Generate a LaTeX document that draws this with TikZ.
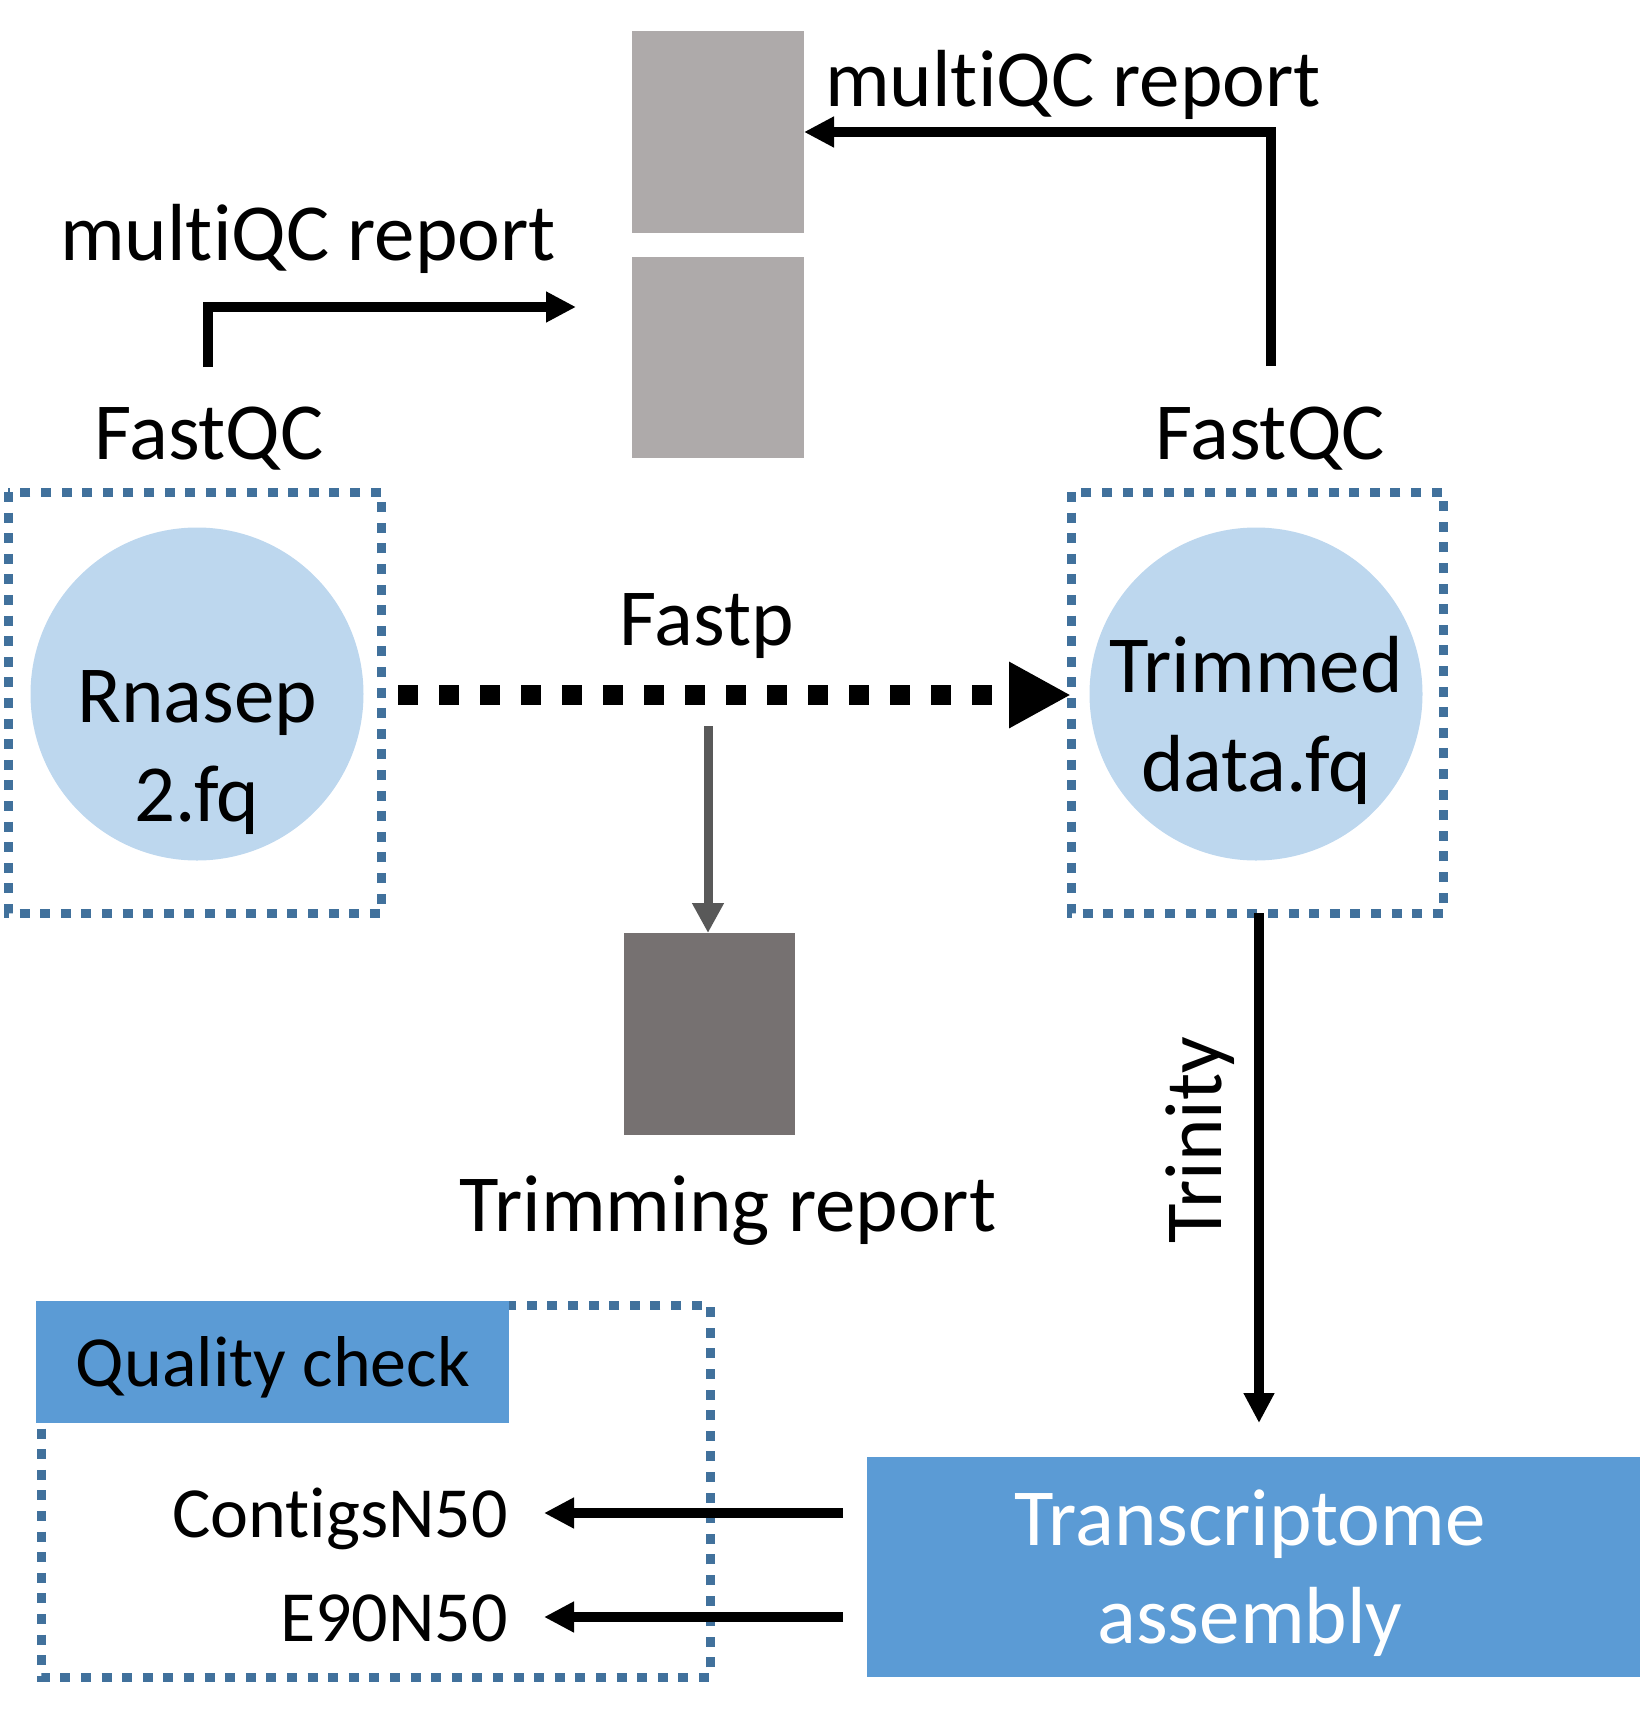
\documentclass[tikz,border=0pt]{standalone}
\usepackage{fontspec}
\setmainfont{Carlito}[RawFeature={-liga;-clig;-dlig;-calt}]
\usetikzlibrary{arrows.meta}
\definecolor{lblue}{HTML}{BDD7EE}
\definecolor{dblue}{HTML}{41719C}
\definecolor{mblue}{HTML}{5B9BD5}
\definecolor{gboxa}{HTML}{AEAAAA}
\definecolor{gboxb}{HTML}{767171}
\definecolor{garrow}{HTML}{595959}
\newcommand{\ti}{t\kern0pt i}
\tikzset{
  big/.style={font=\fontsize{81}{98}\selectfont, inner sep=0pt},
  small/.style={font=\fontsize{72}{86}\selectfont, inner sep=0pt},
  dotbox/.style={draw=dblue, line width=9pt, dash pattern=on 10pt off 10.6pt},
  circ/.style={circle, fill=lblue, minimum size=333pt, inner sep=0pt},
  rectbox/.style={rectangle, inner sep=0pt, outer sep=0pt},
  blk/.style={line width=10pt, -{Triangle[length=30pt,width=29pt]}},
}
\begin{document}
\begin{tikzpicture}[x=1pt,y=-1pt]
\useasboundingbox (0,0) rectangle (1640,1718);
% gray report boxes
\node[rectbox, fill=gboxa, minimum width=172pt, minimum height=202pt] (mqa) at (718,132) {};
\node[rectbox, fill=gboxa, minimum width=172pt, minimum height=201pt] (mqb) at (718,357.5) {};
\node[rectbox, fill=gboxb, minimum width=171pt, minimum height=202pt] (trep) at (709,1034) {};
% dotted boxes
\draw[dotbox] (8,492) rectangle (381,913);
\draw[dotbox] (1071,492) rectangle (1443,913);
\node[rectbox, minimum width=373pt, minimum height=421pt] (rbox) at (1257,702.5) {};
% circles
\node[circ] (rn) at (197,694) {};
\node[circ] (tr) at (1256,694) {};
\node[big, anchor=base] (rn1) at (197,722) {Rnasep};
\node[big, anchor=base] (rn2) at (197,821) {2.fq};
\node[big, anchor=base] (tr1) at (1256,692) {Trimmed};
\node[big, anchor=base] (tr2) at (1256,791) {data.fq};
% labels
\node[big, anchor=base] (mql) at (308,260) {mul\ti QC report};
\node[big, anchor=base] (mqr) at (1073,107) {mul\ti QC report};
\node[big, anchor=base] (fql) at (209,459) {FastQC};
\node[big, anchor=base] (fqr) at (1270,459) {FastQC};
\node[big, anchor=base] (fp) at (707,645) {Fastp};
\node[big, anchor=base] (trl) at (728,1231) {Trimming report};
\node[big, anchor=base, rotate=90] (tri) at (1221,1140) {Trinity};
% quality check box
\draw[dotbox] (41,1305) rectangle (710,1677);
\node[rectbox, fill=mblue, minimum width=473pt, minimum height=122pt] (qh) at (272.5,1362) {};
\node[small, anchor=base] (qt) at (273,1386) {Quality check};
\node[small, anchor=base east] (cn) at (508,1537) {Con\ti gsN50};
\node[small, anchor=base east] (en) at (508,1641) {E90N50};
% transcriptome box
\node[rectbox, fill=mblue, minimum width=773pt, minimum height=220pt] (ta) at (1253.5,1567) {};
\node[big, anchor=base, text=white] (ta1) at (1250,1545) {Transcriptome};
\node[big, anchor=base, text=white] (ta2) at (1250,1643) {assembly};
% connector coordinates
\coordinate (l0) at (208,367);
\coordinate (l1) at (576,307);
\coordinate (r0) at (1271,366);
\coordinate (fs) at (398,695);
\coordinate (fe) at (1071,695);
\coordinate (gs) at (708,726);
\coordinate (ts) at (1259,913);
\coordinate (te) at (1259,1423);
\coordinate (cs) at (843,1513);
\coordinate (ce) at (544,1513);
\coordinate (es) at (843,1617);
\coordinate (ee) at (544,1617);
% connectors
\draw[blk] (l0) |- (l1);
\draw[blk] (r0) |- (mqa.east |- 0,132);
\draw[line width=20pt, dash pattern=on 20pt off 21pt, -{Triangle[length=62pt,width=62pt]}] (fs) -- (fe);
\draw[garrow, line width=9pt, -{Triangle[length=30pt,width=30pt]}] (gs) -- (trep.north -| gs);
\draw[blk] (ts) -- (te);
\draw[blk] (cs) -- (ce);
\draw[blk] (es) -- (ee);
\end{tikzpicture}
\end{document}
